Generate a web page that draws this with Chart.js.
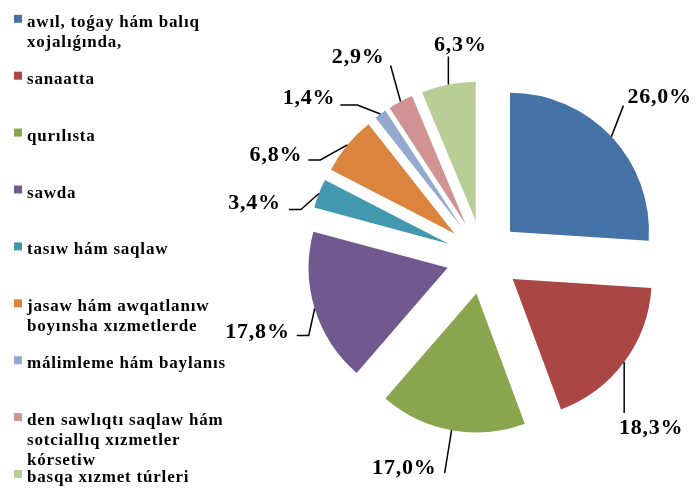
<!DOCTYPE html>
<html>
<head>
<meta charset="utf-8">
<title>Bandlıq - tarmaqlar boyınsha</title>
<script src="https://cdn.jsdelivr.net/npm/chart.js@4.4.1/dist/chart.umd.min.js"></script>
<style>
  html, body { margin: 0; padding: 0; background: #fff; }
  #wrap { position: relative; width: 696px; height: 488px; }
</style>
</head>
<body>
<div id="wrap"><canvas id="pieChart"></canvas></div>
<script>
// Legend categories (each entry is split into the lines shown in the legend)
var categories = [
  ['awıl, toǵay hám balıq', 'xojalıǵında,'],
  ['sanaatta'],
  ['qurılısta'],
  ['sawda'],
  ['tasıw hám saqlaw'],
  ['jasaw hám awqatlanıw', 'boyınsha xızmetlerde'],
  ['málimleme hám baylanıs'],
  ['den sawlıqtı saqlaw hám', 'sotciallıq xızmetler', 'kórsetiw'],
  ['basqa xızmet túrleri'],
];

// Share of each sector, percent
var shares = [26.0, 18.3, 17.0, 17.8, 3.4, 6.8, 1.4, 2.9, 6.3];

var sliceColors = [
  '#4572a7', '#aa4643', '#89a54e', '#71588f', '#4198af',
  '#db843d', '#93a9cf', '#d19392', '#b9cd96',
];

var TEXT_FONT = '"Liberation Serif", "Times New Roman", serif';
var EXPLODE = 37;

/**
 * Leader line + label placement for each slice, relative to the point
 * where the slice bisector meets its outer edge.
 * lx/ly: end of the leader, hx: horizontal elbow, tx/ty: text anchor.
 */
var labelLayout = [
  { lx: 12, ly: -31, hx: 0, tx: 4, ty: -8, align: 'left' },
  { lx: 0, ly: 51, hx: 0, tx: 27, ty: 15, align: 'center' },
  { lx: -7, ly: 43, hx: 0, tx: -8, ty: -5, align: 'right' },
  { lx: -6, ly: 27, hx: -12, tx: -7, ty: -3, align: 'right' },
  { lx: -18, ly: 16, hx: -12, tx: -8, ty: -6, align: 'right' },
  { lx: -27, ly: 15, hx: -12, tx: -6, ty: -5, align: 'right' },
  { lx: -23, ly: -9, hx: -17, tx: -5, ty: -7, align: 'right' },
  { lx: -10, ly: -36, hx: 0, tx: -6, ty: -8, align: 'right' },
  { lx: 0, ly: -28, hx: 0, tx: 12, ty: -11, align: 'center' },
];

function formatShare(v) {
  return v.toFixed(1).replace('.', ',') + '%';
}

// Push every slice away from the centre along its bisector
var explodePlugin = {
  id: 'explodeSlices',
  afterDatasetUpdate: function (chart, args) {
    args.meta.data.forEach(function (arc) {
      var mid = (arc.startAngle + arc.endAngle) / 2;
      arc.x += Math.cos(mid) * EXPLODE;
      arc.y += Math.sin(mid) * EXPLODE;
    });
  },
};

// Percent labels with leader lines
var sliceLabelPlugin = {
  id: 'sliceLabels',
  afterDatasetsDraw: function (chart) {
    var ctx = chart.ctx;
    var meta = chart.getDatasetMeta(0);
    ctx.save();
    ctx.strokeStyle = '#000';
    ctx.lineWidth = 1.5;
    ctx.fillStyle = '#000';
    ctx.font = 'bold 22px ' + TEXT_FONT;
    ctx.letterSpacing = '0.8px';
    ctx.textBaseline = 'middle';
    meta.data.forEach(function (arc, i) {
      var lay = labelLayout[i];
      var mid = (arc.startAngle + arc.endAngle) / 2;
      var ax = arc.x + Math.cos(mid) * arc.outerRadius;
      var ay = arc.y + Math.sin(mid) * arc.outerRadius;
      var ex = ax + lay.lx;
      var ey = ay + lay.ly;
      ctx.beginPath();
      ctx.moveTo(ax, ay);
      ctx.lineTo(ex, ey);
      if (lay.hx) {
        ex += lay.hx;
        ctx.lineTo(ex, ey);
      }
      ctx.stroke();
      ctx.textAlign = lay.align;
      ctx.fillText(formatShare(shares[i]), ex + lay.tx, ey + lay.ty);
    });
    ctx.restore();
  },
};

// Legend down the left side
var sideLegendPlugin = {
  id: 'sideLegend',
  afterDraw: function (chart) {
    var ctx = chart.ctx;
    ctx.save();
    ctx.font = 'bold 17px ' + TEXT_FONT;
    ctx.letterSpacing = '0.8px';
    ctx.textAlign = 'left';
    ctx.textBaseline = 'alphabetic';
    categories.forEach(function (lines, i) {
      var cy = 18.8 + i * 56.9;
      ctx.fillStyle = sliceColors[i];
      ctx.fillRect(14, cy - 4, 8, 8);
      ctx.fillStyle = '#000';
      lines.forEach(function (line, j) {
        ctx.fillText(line, 27, cy + 8 + j * 20);
      });
    });
    ctx.restore();
  },
};

var ctx = document.getElementById('pieChart');
new Chart(ctx, {
  type: 'pie',
  data: {
    labels: categories,
    datasets: [{
      data: shares,
      backgroundColor: sliceColors,
      borderWidth: 0,
    }],
  },
  options: {
    responsive: true,
    maintainAspectRatio: false,
    animation: false,
    radius: 139,
    layout: { padding: { left: 300, right: 30, top: 41, bottom: 15 } },
    plugins: {
      legend: { display: false },
      tooltip: { enabled: false },
    },
  },
  plugins: [explodePlugin, sliceLabelPlugin, sideLegendPlugin],
});
</script>
</body>
</html>
